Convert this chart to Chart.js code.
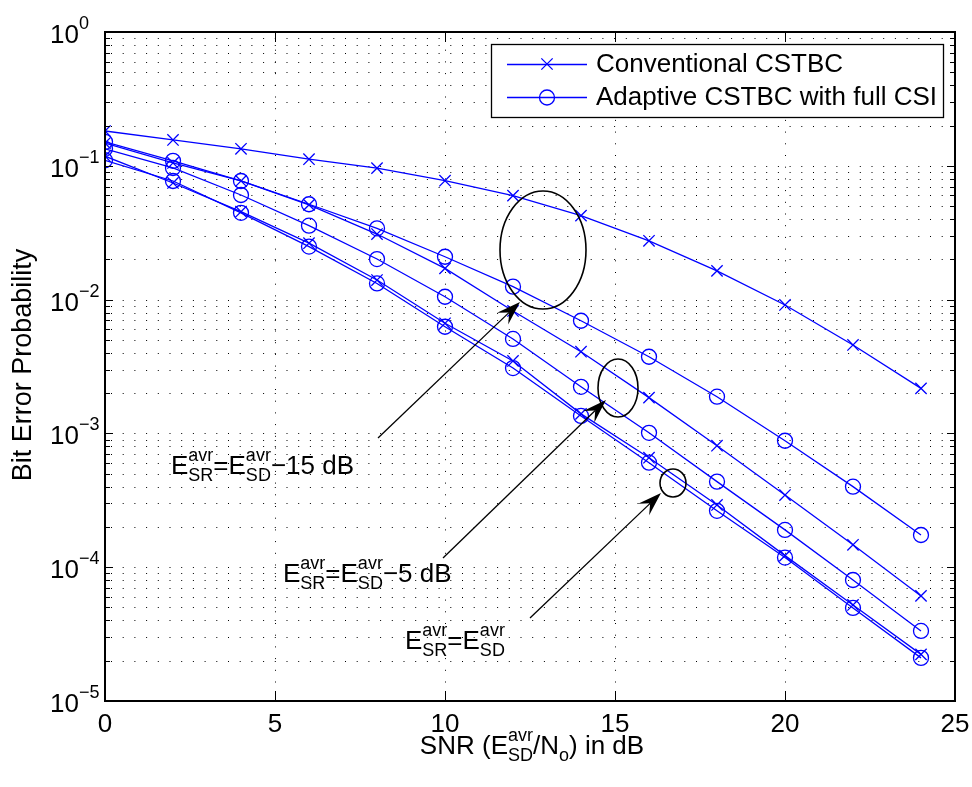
<!DOCTYPE html>
<html>
<head>
<meta charset="utf-8">
<title>Bit Error Probability vs SNR</title>
<script src="https://cdn.jsdelivr.net/npm/chart.js@4.4.1/dist/chart.umd.min.js"></script>
<style>
  html, body { margin: 0; padding: 0; background: #fff; }
  #wrap { width: 972px; height: 787px; }
</style>
</head>
<body>
<div id="wrap"><canvas id="berChart" width="972" height="787"></canvas></div>
<script>
// SNR points (dB)
const snrDb = [0, 2, 4, 6, 8, 10, 12, 14, 16, 18, 20, 22, 24];

// E_SR = E_SD - 15 dB
const convM15  = [0.182, 0.156, 0.134, 0.112, 0.096, 0.0774, 0.0598, 0.0424, 0.0275, 0.0164, 0.00912, 0.00458, 0.00217];
const adaptM15 = [0.151, 0.109, 0.077, 0.0516, 0.0341, 0.0209, 0.0125, 0.00695, 0.00374, 0.00188, 0.000881, 0.000400, 0.000174];
// E_SR = E_SD - 5 dB
const convM5   = [0.148, 0.105, 0.077, 0.0510, 0.0309, 0.0171, 0.00822, 0.00408, 0.00185, 0.000809, 0.000346, 0.000147, 0.0000610];
const adaptM5  = [0.134, 0.0963, 0.0605, 0.0357, 0.0201, 0.0105, 0.00508, 0.00223, 0.00101, 0.000436, 0.000190, 0.0000802, 0.0000334];
// E_SR = E_SD
const conv0    = [0.118, 0.0744, 0.0454, 0.0264, 0.0140, 0.00665, 0.00348, 0.00140, 0.000658, 0.000292, 0.000122, 0.0000522, 0.0000223];
const adapt0   = [0.110, 0.0770, 0.0445, 0.0249, 0.0132, 0.00627, 0.00308, 0.00135, 0.000604, 0.000264, 0.000118, 0.0000496, 0.0000210];

const xTickValues = [0, 5, 10, 15, 20, 25];
const yTickExponents = [0, -1, -2, -3, -4, -5];
const legendLabels = ['Conventional CSTBC', 'Adaptive CSTBC with full CSI'];

const BLUE = '#0000ff';
const FONT = '"Liberation Sans", Arial, Helvetica, sans-serif';
const FS = 26;      // main text size
const SS = 18;      // script size

function series(values, marker) {
  return {
    data: snrDb.map((x, i) => ({ x: x, y: values[i] })),
    borderColor: BLUE,
    backgroundColor: 'rgba(0,0,0,0)',
    borderWidth: 1.3,
    pointStyle: marker === 'x' ? 'crossRot' : 'circle',
    pointRadius: marker === 'x' ? 8 : 7.5,
    pointHoverRadius: marker === 'x' ? 8 : 7.5,
    pointBorderColor: BLUE,
    pointBackgroundColor: 'rgba(0,0,0,0)',
    pointBorderWidth: 1.3,
    tension: 0,
    fill: false
  };
}

// rich text: tokens are {t} or {sup, sub} stacked at the same x
function richWidth(ctx, tokens) {
  let w = 0;
  tokens.forEach(tk => {
    if (tk.t !== undefined) {
      ctx.font = FS + 'px ' + FONT;
      w += ctx.measureText(tk.t).width;
    } else {
      ctx.font = SS + 'px ' + FONT;
      w += Math.max(tk.sup ? ctx.measureText(tk.sup).width : 0, tk.sub ? ctx.measureText(tk.sub).width : 0);
    }
  });
  return w;
}

function drawRich(ctx, tokens, x, y) {
  ctx.textBaseline = 'alphabetic';
  ctx.textAlign = 'left';
  tokens.forEach(tk => {
    if (tk.t !== undefined) {
      ctx.font = FS + 'px ' + FONT;
      ctx.fillText(tk.t, x, y);
      x += ctx.measureText(tk.t).width;
    } else {
      ctx.font = SS + 'px ' + FONT;
      let w = 0;
      if (tk.sup) { ctx.fillText(tk.sup, x, y - 13); w = ctx.measureText(tk.sup).width; }
      if (tk.sub) { ctx.fillText(tk.sub, x, y + 7); w = Math.max(w, ctx.measureText(tk.sub).width); }
      x += w;
    }
  });
}

function arrow(ctx, x0, y0, x1, y1) {
  const ang = Math.atan2(y1 - y0, x1 - x0);
  const L = 24, W = 8, N = 15;
  ctx.beginPath();
  ctx.moveTo(x0, y0);
  ctx.lineTo(x1 - Math.cos(ang) * N, y1 - Math.sin(ang) * N);
  ctx.stroke();
  ctx.save();
  ctx.translate(x1, y1);
  ctx.rotate(ang);
  ctx.beginPath();
  ctx.moveTo(0, 0);
  ctx.lineTo(-L, -W);
  ctx.lineTo(-N, 0);
  ctx.lineTo(-L, W);
  ctx.closePath();
  ctx.fill();
  ctx.restore();
}

function ellipse(ctx, cx, cy, rx, ry) {
  ctx.beginPath();
  ctx.ellipse(cx, cy, rx, ry, 0, 0, Math.PI * 2);
  ctx.stroke();
}

const axesPlugin = {
  id: 'matlabAxes',
  beforeDatasetsDraw(chart) {
    const { ctx, chartArea: a, scales: { x, y } } = chart;
    ctx.save();
    ctx.strokeStyle = '#000';
    ctx.lineWidth = 1;
    ctx.setLineDash([1, 10.7]);
    for (let e = -5; e < 0; e++) {
      for (let k = 1; k <= 9; k++) {
        if (e === -5 && k === 1) continue;
        const py = Math.round(y.getPixelForValue(k * Math.pow(10, e))) + 0.5;
        ctx.beginPath(); ctx.moveTo(a.left + 6, py); ctx.lineTo(a.right, py); ctx.stroke();
      }
    }
    xTickValues.slice(1, -1).forEach(v => {
      const px = Math.round(x.getPixelForValue(v)) + 0.5;
      ctx.beginPath(); ctx.moveTo(px, a.top + 6); ctx.lineTo(px, a.bottom); ctx.stroke();
    });
    ctx.restore();
  },
  afterDatasetsDraw(chart) {
    const { ctx, chartArea: a, scales: { x, y } } = chart;
    ctx.save();
    ctx.strokeStyle = '#000';
    ctx.fillStyle = '#000';

    // tick marks
    ctx.lineWidth = 1;
    for (let e = -5; e <= 0; e++) {
      for (let k = 1; k <= 9; k++) {
        const v = k * Math.pow(10, e);
        if (v > 1) break;
        const py = Math.round(y.getPixelForValue(v)) + 0.5;
        const len = k === 1 ? 8 : 5;
        ctx.beginPath();
        ctx.moveTo(a.left, py); ctx.lineTo(a.left + len, py);
        ctx.moveTo(a.right, py); ctx.lineTo(a.right - len, py);
        ctx.stroke();
      }
    }
    xTickValues.forEach(v => {
      const px = Math.round(x.getPixelForValue(v)) + 0.5;
      ctx.beginPath();
      ctx.moveTo(px, a.bottom); ctx.lineTo(px, a.bottom - 10);
      ctx.moveTo(px, a.top); ctx.lineTo(px, a.top + 10);
      ctx.stroke();
    });

    // frame
    ctx.lineWidth = 2;
    ctx.strokeRect(a.left, a.top, a.right - a.left, a.bottom - a.top);

    // x tick labels
    ctx.font = FS + 'px ' + FONT;
    ctx.textAlign = 'center';
    ctx.textBaseline = 'alphabetic';
    xTickValues.forEach(v => {
      ctx.fillText(String(v), x.getPixelForValue(v), a.bottom + 31);
    });

    // y tick labels 10^n
    yTickExponents.forEach(e => {
      const py = y.getPixelForValue(Math.pow(10, e));
      ctx.font = FS + 'px ' + FONT;
      ctx.textAlign = 'right';
      ctx.fillText('10', 79, py + 11);
      ctx.font = SS + 'px ' + FONT;
      ctx.textAlign = 'left';
      ctx.fillText(e === 0 ? '0' : '\u2212' + Math.abs(e), 79, py - 3);
    });

    // axis titles
    const xTitle = [{ t: 'SNR (E' }, { sup: 'avr', sub: 'SD' }, { t: '/N' }, { sub: 'o' }, { t: ') in dB' }];
    drawRich(ctx, xTitle, 532 - richWidth(ctx, xTitle) / 2, 754);
    ctx.save();
    ctx.translate(31, 365);
    ctx.rotate(-Math.PI / 2);
    ctx.font = '27px ' + FONT;
    ctx.textAlign = 'center';
    ctx.fillText('Bit Error Probability', 0, 0);
    ctx.restore();

    // annotations
    ctx.lineWidth = 1.6;
    ellipse(ctx, 543, 250, 43, 59);
    ellipse(ctx, 618, 388, 20, 29);
    ellipse(ctx, 673, 483, 13, 14);
    ctx.lineWidth = 1.3;
    arrow(ctx, 378, 438, 520, 302);
    arrow(ctx, 443, 558, 606, 400);
    arrow(ctx, 530, 618, 661, 493);

    drawRich(ctx, [{ t: 'E' }, { sup: 'avr', sub: 'SR' }, { t: '=E' }, { sup: 'avr', sub: 'SD' }, { t: '\u221215 dB' }], 171, 474);
    drawRich(ctx, [{ t: 'E' }, { sup: 'avr', sub: 'SR' }, { t: '=E' }, { sup: 'avr', sub: 'SD' }, { t: '\u22125 dB' }], 283, 582);
    drawRich(ctx, [{ t: 'E' }, { sup: 'avr', sub: 'SR' }, { t: '=E' }, { sup: 'avr', sub: 'SD' }], 405, 649);

    // legend
    const lx = 491, ly = 44, lw = 452, lh = 73;
    ctx.fillStyle = '#fff';
    ctx.fillRect(lx, ly, lw, lh);
    ctx.lineWidth = 1.3;
    ctx.strokeStyle = '#000';
    ctx.strokeRect(lx + 0.5, ly + 0.5, lw, lh);
    const rows = [64, 97];
    rows.forEach((ry, i) => {
      ctx.strokeStyle = BLUE;
      ctx.lineWidth = 1.3;
      ctx.beginPath(); ctx.moveTo(507, ry + 0.5); ctx.lineTo(587, ry + 0.5); ctx.stroke();
      ctx.beginPath();
      if (i === 0) {
        const d = 8 * Math.SQRT1_2;
        ctx.moveTo(547 - d, ry - d); ctx.lineTo(547 + d, ry + d);
        ctx.moveTo(547 + d, ry - d); ctx.lineTo(547 - d, ry + d);
      } else {
        ctx.arc(547, ry + 0.5, 7.5, 0, Math.PI * 2);
      }
      ctx.stroke();
      ctx.fillStyle = '#000';
      ctx.font = FS + 'px ' + FONT;
      ctx.textAlign = 'left';
      ctx.textBaseline = 'middle';
      ctx.fillText(legendLabels[i], 596, ry + 1);
    });
    ctx.restore();
  }
};

new Chart(document.getElementById('berChart'), {
  type: 'line',
  data: {
    datasets: [
      series(convM15, 'x'),
      series(adaptM15, 'o'),
      series(convM5, 'x'),
      series(adaptM5, 'o'),
      series(conv0, 'x'),
      series(adapt0, 'o')
    ]
  },
  options: {
    responsive: false,
    animation: false,
    devicePixelRatio: 1,
    layout: { padding: { left: 105, top: 32, right: 17, bottom: 86 } },
    plugins: { legend: { display: false }, tooltip: { enabled: false } },
    scales: {
      x: { type: 'linear', min: 0, max: 25, display: false },
      y: { type: 'logarithmic', min: 1e-5, max: 1, display: false }
    }
  },
  plugins: [axesPlugin]
});
</script>
</body>
</html>
